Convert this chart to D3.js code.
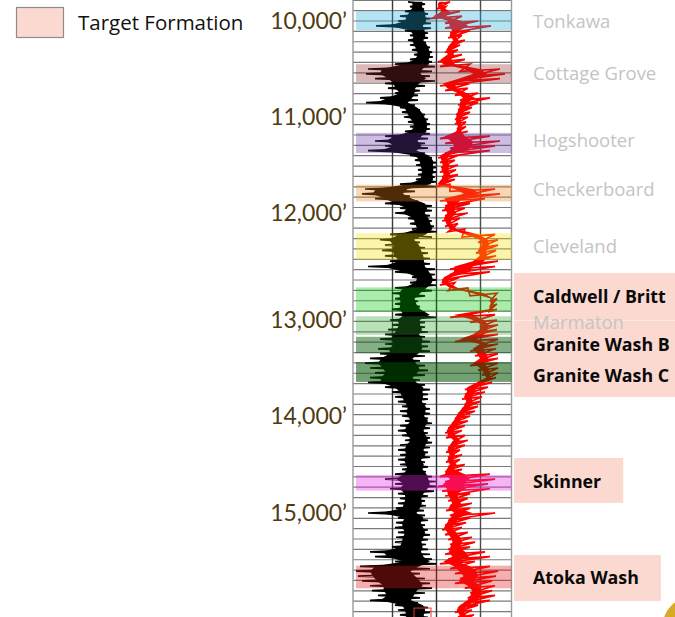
<!DOCTYPE html>
<html><head><meta charset="utf-8">
<script src="https://cdn.jsdelivr.net/npm/d3@7"></script>
<style>body{margin:0;background:#fff;} svg{display:block;}</style>
</head><body>
<svg id="c" width="675" height="617"></svg>
<script>
// ---------- DATA ----------
const depthTicks  = [10000, 11000, 12000, 13000, 14000, 15000];
const depthLabels = ["10,000’", "11,000’", "12,000’", "13,000’", "14,000’", "15,000’"];

// log samples every 50 ft starting at 9,800 ft
const sampleTop = 9800, sampleStep = 50;
// Gamma ray envelope (API) – low / high reading in each interval
const grLo = [112,116,106,96,92,48,106,116,112,116,
  120,124,116,86,32,28,46,66,72,86,
  56,28,96,100,104,112,116,106,66,46,
  66,32,116,126,128,132,132,128,96,26,
  20,46,66,96,86,112,116,120,76,56,
  66,60,66,76,32,86,120,116,86,80,
  86,86,80,86,76,80,72,66,56,66,
  52,56,36,26,36,46,36,32,66,80,
  86,92,100,96,100,106,96,92,100,106,
  96,92,96,92,96,100,86,66,86,76,
  92,96,92,88,32,92,88,86,92,88,
  86,80,36,46,86,16,8,12,20,36,
  40,52,36,86,92,96,96];
const grHi = [146,144,152,156,158,158,152,152,148,156,
  160,162,160,166,160,156,166,146,136,132,
  132,126,136,146,152,156,156,156,152,146,
  152,146,160,168,168,168,166,168,168,126,
  116,132,160,160,156,160,164,168,160,136,
  146,152,156,156,166,166,168,168,160,146,
  132,136,146,168,146,146,152,146,156,152,
  156,146,136,146,152,146,136,146,156,152,
  152,148,156,156,152,160,156,152,156,160,
  156,152,156,146,152,148,160,168,168,164,
  152,146,148,144,146,152,146,152,156,152,
  148,152,156,160,168,156,136,146,156,160,
  146,136,132,152,156,152,152];
// Resistivity envelope (ohm-m)
const resLo = [1.1,1.0,1.3,0.52,2.1,2.1,3.3,2.8,4.0,2.8,
  2.1,2.3,1.1,1.3,8.3,21,5.2,1.3,2.1,5.2,
  8.3,6.9,6.9,5.8,5.2,5.2,6.3,5.2,1.3,2.1,
  3.3,2.1,1.1,1.3,1.45,1.3,1.6,1.3,0.9,3.3,
  8.3,1.3,2.1,1.6,2.1,1.6,2.1,2.8,10,44,
  52,36,44,21,3.3,3.3,1.6,1.3,2.8,21,
  130,130,110,3.3,21,52,44,21,5.2,44,
  21,33,44,21,44,63,83,33,13,13,
  10,13,10,6.9,5.2,4.0,2.8,2.1,2.3,4.0,
  2.8,2.3,2.8,2.3,2.8,2.1,1.3,2.1,1.1,1.6,
  2.1,2.8,3.3,2.3,3.3,2.8,2.1,1.6,2.1,2.8,
  3.3,2.8,2.1,2.8,1.3,3.3,5.2,8.3,5.2,13,
  21,17,13,6.9,5.2,6.9,6.9];
const resHi = [3.3,2.3,8.3,10,44,145,21,10,13,8.3,
  6.9,10,13,21,330,525,330,21,17,44,
  130,44,25,21,17,14.5,14.5,17,130,330,
  210,130,6.9,5.2,6.9,5.8,6.9,5.2,3.3,210,
  330,83,21,13,17,8.3,6.9,13,210,275,
  275,230,230,275,210,130,8.3,5.2,17,250,
  250,250,250,210,250,275,250,275,275,275,
  230,275,275,275,275,275,230,160,110,83,
  63,52,44,33,21,17,13,10,13,17,
  13,8.3,10,8.3,13,10,130,210,110,130,
  21,17,25,21,210,21,14.5,10,17,25,
  33,21,83,130,33,130,275,230,160,210,
  160,210,130,44,25,30,25];

// Formations
const formNames   = ["Tonkawa","Cottage Grove","Hogshooter","Checkerboard","Cleveland","Caldwell / Britt","Marmaton","Granite Wash B","Granite Wash C","Skinner","Atoka Wash"];
const formTop     = [9900, 10450, 11165, 11705, 12190, 12695, 12965, 13175, 13440, 14608, 15543];
const formBase    = [10095, 10635, 11375, 11880, 12440, 12925, 13155, 13345, 13645, 14770, 15776];
const formLabelDepth = [10000, 10542, 11240, 11750, 12308, 12785, 13021, 13260, 13583, 14680, 15670];
const formColor   = ["#1fa9d8","#942a2a","#673aa4","#ef851b","#efe000","#00c200","#2aa42a","#0f5f0f","#005200","#e628e6","#e21a1a"];
const formOpacity = [0.33,0.33,0.33,0.33,0.33,0.33,0.33,0.5,0.55,0.35,0.35];
const formIsTarget = [false,false,false,false,false,true,false,true,true,true,true];

// Target formation boxes (depth top / base)
const targetTop  = [12561, 13005, 14433, 15433];
const targetBase = [13000, 13802, 14897, 15907];

const legendLabel = "Target Formation";

// ---------- DRAW ----------
const svg = d3.select("#c");
const y = d3.scaleLinear().domain(depthTicks).range([21, 117, 213, 320, 416, 513]);
const gx = d3.scaleLinear().domain([0, 170]).range([352, 437]);
const rx = d3.scaleLog().domain([1, 1000]).range([437, 512]);

const trackL = 353, trackR = 511.5;
const samples = grLo.map((v, i) => ({
  depth: sampleTop + i * sampleStep, grLo: v, grHi: grHi[i], rLo: resLo[i], rHi: resHi[i]
}));

const pink = "#fbd9d0";
const labelFont = "'Open Sans', 'Noto Sans', sans-serif";
const depthFont = "Lato, 'Open Sans', sans-serif";

const boxG = svg.append("g");

// Legend
svg.append("rect").attr("x", 16.5).attr("y", 7.5).attr("width", 47).attr("height", 30)
  .attr("fill", pink).attr("stroke", "#8c8c8c").attr("stroke-width", 1.2);
svg.append("text").attr("x", 78).attr("y", 30).text(legendLabel)
  .attr("font-family", labelFont).attr("font-size", 20.5).attr("fill", "#111");

// Grid
const grid = svg.append("g");
d3.range(0.3, 617, 10.36).forEach(py => {
  grid.append("line").attr("x1", trackL).attr("x2", trackR).attr("y1", py).attr("y2", py)
    .attr("stroke", "#7a7a7a").attr("stroke-width", 1.2);
});
[[trackL, "#9a9a9a"], [392.5, "#3a3a3a"], [436.5, "#2a2a2a"], [480.5, "#4a4a4a"], [trackR, "#9a9a9a"]].forEach(([px, c]) => {
  grid.append("line").attr("x1", px).attr("x2", px).attr("y1", 0).attr("y2", 617)
    .attr("stroke", c).attr("stroke-width", 1.4);
});

// Curves: solid core plus a trace zig-zagging between the low and high reading of each interval
svg.append("clipPath").attr("id", "trk").append("rect")
  .attr("x", trackL).attr("y", 0).attr("width", trackR - trackL).attr("height", 617);
const curves = svg.append("g").attr("clip-path", "url(#trk)");
const grPts = samples.flatMap(d => [[gx(d.grLo), y(d.depth)], [gx(d.grHi), y(d.depth + sampleStep / 2)]]);
const rPts  = samples.flatMap(d => [[rx(d.rLo), y(d.depth + sampleStep / 2)], [rx(d.rHi), y(d.depth)]]);
const line = d3.line();
const grCore = d3.area().y(d => y(d.depth))
  .x0(d => gx(d.grLo + (d.grHi - d.grLo) * 0.22)).x1(d => gx(d.grHi - (d.grHi - d.grLo) * 0.15));
const rCore = d3.area().y(d => y(d.depth))
  .x0(d => rx(d.rLo * Math.pow(d.rHi / d.rLo, 0.1))).x1(d => rx(d.rLo * Math.pow(d.rHi / d.rLo, 0.5)));
curves.append("path").attr("d", grCore(samples)).attr("fill", "#000");
curves.append("path").attr("d", line(grPts)).attr("fill", "none").attr("stroke", "#000").attr("stroke-width", 1.7).attr("stroke-linejoin", "miter");
curves.append("path").attr("d", rCore(samples)).attr("fill", "#ff0000");
curves.append("path").attr("d", line(rPts)).attr("fill", "none").attr("stroke", "#ff0000").attr("stroke-width", 1.7).attr("stroke-linejoin", "miter");

// Formation bands
formNames.forEach((n, i) => {
  svg.append("rect").attr("x", 356).attr("width", trackR - 356)
    .attr("y", y(formTop[i])).attr("height", y(formBase[i]) - y(formTop[i]))
    .attr("fill", formColor[i]).attr("fill-opacity", formOpacity[i]);
});

// Formation labels
const labX = 533;
const labels = svg.append("g");
formNames.forEach((n, i) => {
  labels.append("text").attr("x", labX).attr("y", y(formLabelDepth[i])).attr("dy", "0.36em")
    .text(n).attr("font-family", labelFont).attr("font-size", formIsTarget[i] ? 17.8 : 18.5)
    .attr("font-weight", formIsTarget[i] ? 700 : 400)
    .attr("fill", formIsTarget[i] ? "#0a0a0a" : "#c4c4c4");
});

// target boxes sized to labels
targetTop.forEach((t, i) => {
  const yt = y(t), yb = y(targetBase[i]);
  let maxR = 0;
  labels.selectAll("text").each(function(_, j) {
    const ly = y(formLabelDepth[j]);
    if (ly > yt && ly < yb) { const b = this.getBBox(); maxR = Math.max(maxR, b.x + b.width); }
  });
  boxG.append("rect").attr("x", 514).attr("y", yt).attr("width", Math.min(675, maxR + 22) - 514)
    .attr("height", yb - yt).attr("fill", pink);
});

// depth labels
svg.append("g").selectAll("text").data(depthTicks).join("text")
  .attr("x", 347).attr("y", d => y(d)).attr("dy", "0.33em").attr("text-anchor", "end")
  .text((d, i) => depthLabels[i]).attr("font-family", depthFont).attr("font-size", 23)
  .attr("fill", "#4f3b12");

// small marker at bottom of track
svg.append("rect").attr("x", gx(124)).attr("y", y(15980)).attr("width", gx(158) - gx(124)).attr("height", 20)
  .attr("fill", "none").attr("stroke", "#e33").attr("stroke-width", 1);

// decorative corner circle
svg.append("circle").attr("cx", 690).attr("cy", 625).attr("r", 27).attr("fill", "#d9a928");
</script>
</body></html>
